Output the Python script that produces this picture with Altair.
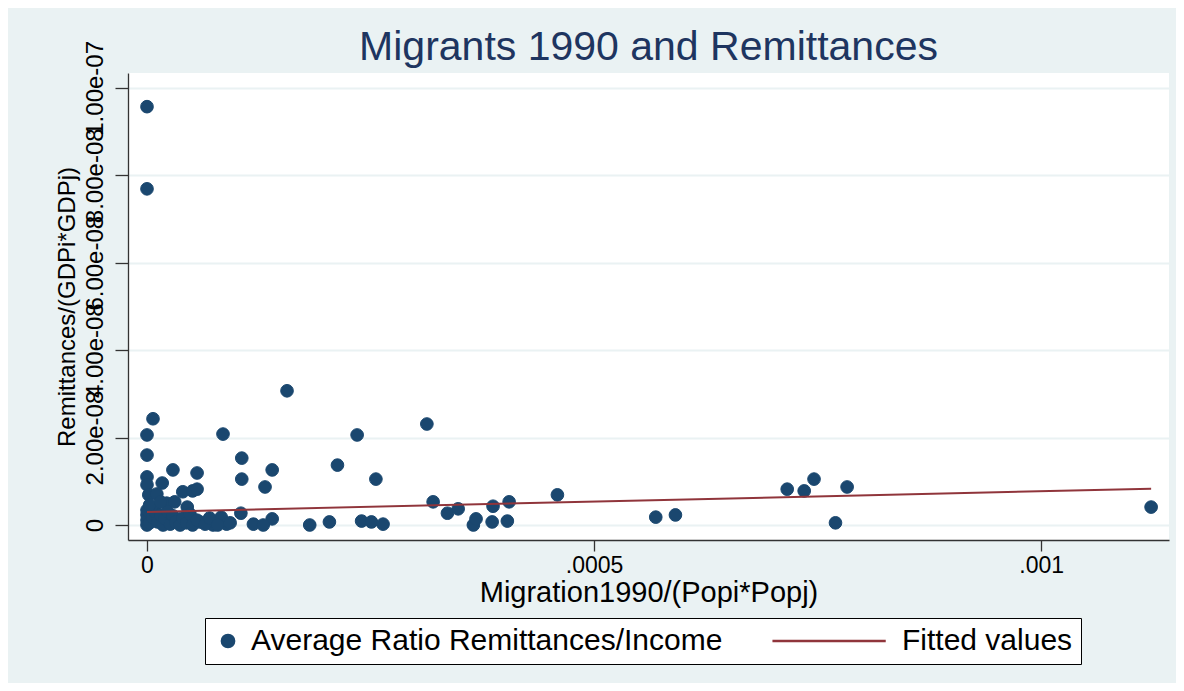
import altair as alt
import pandas as pd

# ---- data (x in units of 1e-4, y in units of 1e-8) ----
X_UNIT = 1e-4
Y_UNIT = 1e-8

pts_x = [0, 0, 0.067, 0, 0,
         1.566, 0.85, 2.35, 3.13,
         1.06, 2.13, 1.40, 0.29, 0.56,
         0, 0, 0.17, 0.02, 0.11,
         0.40, 0.51, 0.56,
         1.06, 1.32, 2.56,
         0.22, 0.45, 1.05,
         3.20, 3.36, 3.48, 3.87, 4.05, 4.59,
         1.82, 2.04, 2.40, 2.51, 2.64,
         3.65, 3.68, 3.86, 4.03,
         0.83, 1.40, 1.19, 1.30, 0.89, 0.74, 0.59,
         5.69, 5.91, 7.16, 7.35, 7.46, 7.70, 7.83, 11.23,
         0, 0, 0, 0, 0.03, 0.06, 0.09, 0.12, 0.15, 0.18, 0.20, 0.23, 0.26, 0.29,
         0.32, 0.37, 0.40, 0.44, 0.48, 0.51, 0.56, 0.65, 0.70, 0.79, 0.93,
         0.03, 0.15, 0.31]
pts_y = [9.57, 7.69, 2.43, 2.06, 1.60,
         3.07, 2.08, 2.06, 2.31,
         1.53, 1.37, 1.26, 1.26, 1.19,
         1.10, 0.92, 0.96, 0.69, 0.71,
         0.76, 0.78, 0.82,
         1.05, 0.87, 1.05,
         0.50, 0.41, 0.27,
         0.53, 0.27, 0.37, 0.43, 0.53, 0.69,
         0.00, 0.07, 0.09, 0.07, 0.02,
         0.00, 0.14, 0.07, 0.09,
         0.18, 0.14, 0.02, 0.00, 0.02, 0.00, 0.07,
         0.18, 0.23, 0.82, 0.78, 1.05, 0.05, 0.87, 0.41,
         0.00, 0.11, 0.23, 0.34, 0.05, 0.18, 0.30, 0.07, 0.23, 0.00, 0.14, 0.30, 0.02, 0.21,
         0.07, 0.00, 0.16, 0.05, 0.25, 0.00, 0.11, 0.02, 0.16, 0.00, 0.05,
         0.46, 0.53, 0.53]

fit_x = [0, 11.23]
fit_y = [0.30, 0.83]

series = ["Average Ratio Remittances/Income", "Fitted values"]
series_colors = ["#1A476F", "#90353B"]
# legend glyphs: a dot for the scatter, a long horizontal stroke for the fit
series_shapes = ["circle", "M-17.4,0L1.1,0"]

x_tick_values = [0, 0.0005, 0.001]
x_tick_labels = ["0", ".0005", ".001"]
y_tick_values = [0, 2e-8, 4e-8, 6e-8, 8e-8, 1e-7]
y_tick_labels = ["0", "2.00e-08", "4.00e-08", "6.00e-08", "8.00e-08", "1.00e-07"]

x_domain = [-2.125e-5, 1.143e-3]
y_domain = [-0.343e-8, 10.34e-8]

FONT = "Liberation Sans"
BG = "#EAF2F3"

df_pts = pd.DataFrame({
    "x": [v * X_UNIT for v in pts_x],
    "y": [v * Y_UNIT for v in pts_y],
    "series": series[0],
})
df_fit = pd.DataFrame({
    "x": [v * X_UNIT for v in fit_x],
    "y": [v * Y_UNIT for v in fit_y],
    "series": series[1],
})


def label_expr(values, labels):
    expr = "''"
    for v, l in reversed(list(zip(values, labels))):
        expr = f"abs(datum.value - ({v!r})) < 1e-15 ? '{l}' : ({expr})"
    return expr


x_scale = alt.Scale(domain=x_domain, nice=False, zero=False)
y_scale = alt.Scale(domain=y_domain, nice=False, zero=False)

x_axis = alt.Axis(
    values=x_tick_values, labelExpr=label_expr(x_tick_values, x_tick_labels),
    title="Migration1990/(Popi*Popj)", grid=False,
    domainColor="#333333", domainWidth=1.3, tickColor="#333333", tickWidth=1.3, tickSize=11,
    labelFont=FONT, labelFontSize=23, labelColor="black", labelPadding=3, labelFlush=False,
    titleFont=FONT, titleFontSize=29, titleColor="black", titleFontWeight="normal", titlePadding=1,
)
y_axis = alt.Axis(
    values=y_tick_values, labelExpr=label_expr(y_tick_values, y_tick_labels),
    title="Remittances/(GDPi*GDPj)", grid=True, gridColor=BG, gridWidth=2,
    domainColor="#333333", domainWidth=1.3, tickColor="#333333", tickWidth=1.3, tickSize=13,
    labelAngle=270, labelAlign="center", labelBaseline="bottom", labelOverlap=False,
    labelFont=FONT, labelFontSize=24, labelColor="black", labelPadding=8, labelFlush=False,
    titleFont=FONT, titleFontSize=24, titleColor="black", titleFontWeight="normal",
    titleAngle=270, titlePadding=4,
)

legend = alt.Legend(
    title=None, orient="none", legendX=77, legendY=545, direction="horizontal",
    fillColor="white", strokeColor="black", padding=8,
    labelFont=FONT, labelFontSize=30, labelColor="black", labelOffset=8, labelLimit=900,
    symbolSize=150, symbolStrokeWidth=2.5, symbolOpacity=1, columnPadding=44,
)

points = alt.Chart(df_pts).mark_point(filled=True, opacity=1, strokeWidth=1, size=160).encode(
    x=alt.X("x:Q", scale=x_scale, axis=x_axis),
    y=alt.Y("y:Q", scale=y_scale, axis=y_axis),
    color=alt.Color("series:N", scale=alt.Scale(domain=series, range=series_colors), legend=legend),
    stroke=alt.Stroke("series:N", scale=alt.Scale(domain=series, range=series_colors), legend=legend),
    shape=alt.Shape("series:N", scale=alt.Scale(domain=series, range=series_shapes), legend=legend),
)

fit = alt.Chart(df_fit).mark_line(strokeWidth=2).encode(
    x=alt.X("x:Q", scale=x_scale),
    y=alt.Y("y:Q", scale=y_scale),
    color=alt.Color("series:N", scale=alt.Scale(domain=series, range=series_colors), legend=legend),
)

chart = alt.layer(points, fit).properties(
    width=1041, height=467,
    autosize=alt.AutoSizeParams(type="none"),
    padding={"left": 120, "top": 65, "right": 7, "bottom": 143},
    background=BG,
    title=alt.TitleParams(
        "Migrants 1990 and Remittances", font=FONT, fontSize=41, fontWeight="normal",
        color="#1E3560", anchor="middle", offset=11, dy=40,
    ),
).configure_view(fill="white", stroke=None)

chart.save("out.html", embed_options={"renderer": "svg", "actions": False})
